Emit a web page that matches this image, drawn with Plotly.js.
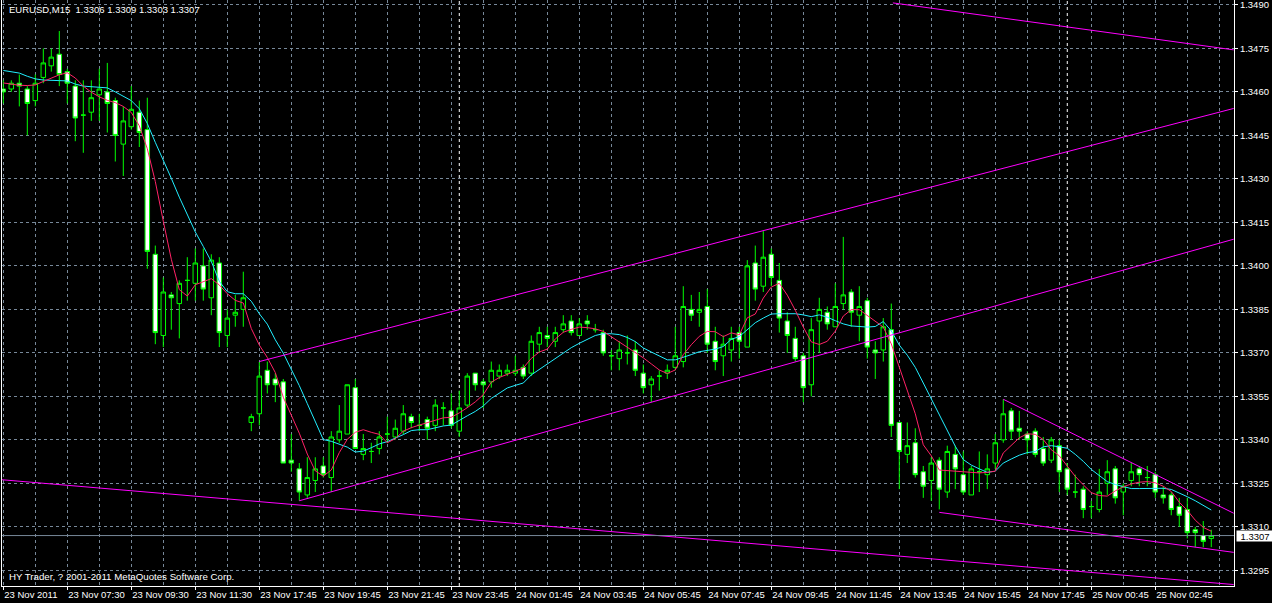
<!DOCTYPE html>
<html><head><meta charset="utf-8">
<script src="https://cdn.plot.ly/plotly-3.0.1.min.js"></script>
<style>html,body{margin:0;padding:0;background:#000;overflow:hidden}#chart{width:1272px;height:603px}</style>
</head><body><div id="chart"></div>
<script>
const symbolTitle = "EURUSD,M15&nbsp;&nbsp;1.3306 1.3309 1.3303 1.3307";
const copyright = "HY Trader, ? 2001-2011 MetaQuotes Software Corp.";
const timeLabels = ["23 Nov 2011","23 Nov 07:30","23 Nov 09:30","23 Nov 11:30","23 Nov 17:45","23 Nov 19:45","23 Nov 21:45","23 Nov 23:45","24 Nov 01:45","24 Nov 03:45","24 Nov 05:45","24 Nov 07:45","24 Nov 09:45","24 Nov 11:45","24 Nov 13:45","24 Nov 15:45","24 Nov 17:45","25 Nov 00:45","25 Nov 02:45"];
const barsPerLabel = 8;
const priceTicks = [1.3295,1.3310,1.3325,1.3340,1.3355,1.3370,1.3385,1.3400,1.3415,1.3430,1.3445,1.3460,1.3475,1.3490];

const open = [1.3461,1.3461,1.3463,1.3461,1.3457,1.3465,1.3469,1.3473,1.3467,1.3462,
1.3452,1.3453,1.3459,1.3460,1.3457,1.3442,1.3448,1.3453,1.3447,1.3404,
1.3376,1.3390,1.3387,1.3395,1.3394,1.3400,1.3389,1.3401,1.3376,1.3383,
1.3385,1.3346,1.3349,1.3364,1.3361,1.3360,1.3333,1.3330,1.3321,1.3326,
1.3331,1.3327,1.3340,1.3342,1.3358,1.3335,1.3336,1.3337,1.3342,1.3341,
1.3343,1.3348,1.3345,1.3347,1.3345,1.3351,1.3350,1.3343,1.3352,1.3363,
1.3360,1.3360,1.3362,1.3363,1.3363,1.3365,1.3363,1.3373,1.3376,1.3374,
1.3378,1.3381,1.3376,1.3381,1.3378,1.3377,1.3369,1.3368,1.3370,1.3371,
1.3363,1.3359,1.3362,1.3363,1.3365,1.3367,1.3385,1.3384,1.3386,1.3374,
1.3369,1.3371,1.3377,1.3372,1.3401,1.3393,1.3404,1.3395,1.3381,1.3375,
1.3369,1.3359,1.3381,1.3384,1.3379,1.3387,1.3391,1.3383,1.3388,1.3371,
1.3371,1.3378,1.3346,1.3335,1.3339,1.3329,1.3326,1.3333,1.3322,1.3335,
1.3328,1.3321,1.3329,1.3328,1.3332,1.3340,1.3350,1.3344,1.3342,1.3343,
1.3337,1.3333,1.3338,1.3330,1.3322,1.3323,1.3317,1.3316,1.3325,1.3330,
1.3322,1.3326,1.3330,1.3327,1.3328,1.3321,1.3321,1.3317,1.3316,1.3309,
1.3307,1.3306];
const high = [1.3464,1.3464,1.3466,1.3462,1.3466,1.3475,1.3475,1.3481,1.3468,1.3464,
1.3464,1.3464,1.3468,1.3470,1.3458,1.3455,1.3462,1.3457,1.3458,1.3407,
1.3396,1.3391,1.3395,1.3403,1.3406,1.3406,1.3404,1.3403,1.3385,1.3390,
1.3398,1.3349,1.3367,1.3367,1.3363,1.3361,1.3342,1.3332,1.3334,1.3334,
1.3334,1.3343,1.3352,1.3359,1.3361,1.3342,1.3339,1.3343,1.3348,1.3347,
1.3352,1.3349,1.3349,1.3348,1.3354,1.3353,1.3356,1.3357,1.3363,1.3363,
1.3361,1.3367,1.3366,1.3366,1.3369,1.3366,1.3376,1.3379,1.3379,1.3379,
1.3383,1.3383,1.3382,1.3383,1.3380,1.3378,1.3371,1.3374,1.3376,1.3374,
1.3366,1.3362,1.3364,1.3366,1.3379,1.3393,1.3390,1.3391,1.3392,1.3379,
1.3376,1.3379,1.3379,1.3402,1.3407,1.3412,1.3406,1.3401,1.3384,1.3379,
1.3370,1.3382,1.3389,1.3386,1.3394,1.3410,1.3392,1.3393,1.3389,1.3374,
1.3382,1.3387,1.3346,1.3346,1.3344,1.3331,1.3334,1.3334,1.3338,1.3338,
1.3336,1.3331,1.3336,1.3335,1.3342,1.3354,1.3351,1.3350,1.3343,1.3344,
1.3341,1.3341,1.3340,1.3332,1.3328,1.3324,1.3319,1.3330,1.3333,1.3331,
1.3325,1.3332,1.3331,1.3331,1.3329,1.3324,1.3322,1.3320,1.3320,1.3310,
1.3312,1.3309];
const low = [1.3456,1.3460,1.3455,1.3445,1.3455,1.3463,1.3467,1.3462,1.3456,1.3443,
1.3439,1.3450,1.3450,1.3446,1.3436,1.3431,1.3447,1.3441,1.3399,1.3373,
1.3372,1.3378,1.3375,1.3388,1.3388,1.3388,1.3383,1.3372,1.3372,1.3379,
1.3379,1.3343,1.3345,1.3356,1.3353,1.3332,1.3329,1.3319,1.3320,1.3322,
1.3327,1.3322,1.3339,1.3342,1.3337,1.3333,1.3332,1.3335,1.3339,1.3340,
1.3342,1.3344,1.3343,1.3340,1.3343,1.3345,1.3344,1.3341,1.3351,1.3357,
1.3351,1.3358,1.3361,1.3362,1.3362,1.3361,1.3362,1.3370,1.3372,1.3372,
1.3377,1.3376,1.3376,1.3378,1.3377,1.3369,1.3364,1.3364,1.3366,1.3362,
1.3356,1.3353,1.3357,1.3361,1.3364,1.3365,1.3381,1.3379,1.3370,1.3364,
1.3362,1.3367,1.3368,1.3372,1.3388,1.3391,1.3393,1.3377,1.3370,1.3367,
1.3353,1.3355,1.3370,1.3378,1.3379,1.3385,1.3379,1.3374,1.3368,1.3361,
1.3367,1.3341,1.3323,1.3332,1.3327,1.3320,1.3319,1.3316,1.3320,1.3323,
1.3321,1.3321,1.3322,1.3323,1.3330,1.3339,1.3340,1.3340,1.3335,1.3334,
1.3331,1.3332,1.3322,1.3321,1.3320,1.3313,1.3313,1.3315,1.3321,1.3318,
1.3314,1.3324,1.3324,1.3324,1.3320,1.3318,1.3314,1.3310,1.3306,1.3303,
1.3303,1.3303];
const close = [1.3460,1.3463,1.3462,1.3456,1.3463,1.3470,1.3472,1.3466,1.3463,1.3451,
1.3452,1.3458,1.3461,1.3456,1.3445,1.3450,1.3454,1.3446,1.3405,1.3377,
1.3391,1.3389,1.3394,1.3395,1.3401,1.3392,1.3402,1.3377,1.3382,1.3384,
1.3389,1.3348,1.3362,1.3359,1.3359,1.3332,1.3332,1.3322,1.3327,1.3330,
1.3328,1.3341,1.3343,1.3359,1.3337,1.3337,1.3336,1.3341,1.3342,1.3344,
1.3349,1.3346,1.3345,1.3344,1.3352,1.3351,1.3345,1.3351,1.3362,1.3359,
1.3359,1.3364,1.3364,1.3364,1.3364,1.3362,1.3374,1.3377,1.3375,1.3377,
1.3380,1.3377,1.3380,1.3380,1.3378,1.3370,1.3369,1.3371,1.3370,1.3364,
1.3358,1.3361,1.3362,1.3364,1.3369,1.3386,1.3383,1.3385,1.3373,1.3367,
1.3373,1.3375,1.3374,1.3400,1.3392,1.3403,1.3396,1.3382,1.3376,1.3368,
1.3358,1.3378,1.3385,1.3380,1.3386,1.3390,1.3384,1.3386,1.3372,1.3370,
1.3379,1.3345,1.3336,1.3338,1.3328,1.3324,1.3332,1.3323,1.3336,1.3330,
1.3322,1.3330,1.3329,1.3330,1.3339,1.3349,1.3343,1.3343,1.3340,1.3335,
1.3332,1.3340,1.3329,1.3323,1.3322,1.3316,1.3317,1.3322,1.3329,1.3320,
1.3324,1.3329,1.3328,1.3327,1.3322,1.3320,1.3316,1.3314,1.3308,1.3308,
1.3305,1.3307];

const maSlow = [1.34674,1.34669,1.34665,1.34654,1.34645,1.34641,1.34639,1.34639,1.34638,1.34627,
1.34620,1.34618,1.34616,1.34614,1.34600,1.34584,1.34570,1.34542,1.34491,1.34426,
1.34366,1.34302,1.34237,1.34175,1.34117,1.34067,1.34015,1.33947,1.33911,1.33904,
1.33904,1.33878,1.33835,1.33799,1.33745,1.33699,1.33643,1.33587,1.33525,1.33463,
1.33401,1.33395,1.33384,1.33375,1.33358,1.33361,1.33373,1.33386,1.33394,1.33405,
1.33418,1.33432,1.33435,1.33435,1.33442,1.33448,1.33451,1.33468,1.33483,1.33498,
1.33517,1.33543,1.33561,1.33579,1.33588,1.33596,1.33624,1.33643,1.33660,1.33682,
1.33700,1.33718,1.33733,1.33746,1.33760,1.33766,1.33766,1.33763,1.33753,1.33739,
1.33717,1.33703,1.33689,1.33676,1.33676,1.33684,1.33694,1.33704,1.33708,1.33713,
1.33722,1.33747,1.33756,1.33781,1.33804,1.33820,1.33834,1.33835,1.33835,1.33835,
1.33831,1.33825,1.33831,1.33823,1.33811,1.33800,1.33793,1.33790,1.33789,1.33791,
1.33808,1.33776,1.33727,1.33692,1.33650,1.33596,1.33541,1.33486,1.33430,1.33378,
1.33332,1.33313,1.33300,1.33288,1.33292,1.33320,1.33334,1.33347,1.33356,1.33360,
1.33376,1.33380,1.33376,1.33371,1.33350,1.33326,1.33298,1.33276,1.33256,1.33246,
1.33238,1.33232,1.33232,1.33233,1.33234,1.33233,1.33229,1.33217,1.33204,1.33190,
1.33175,1.33158];
const maFast = [1.34631,1.34627,1.34623,1.34622,1.34624,1.34636,1.34648,1.34659,1.34666,1.34648,
1.34620,1.34599,1.34583,1.34571,1.34563,1.34550,1.34529,1.34483,1.34404,1.34291,
1.34154,1.34023,1.33918,1.33896,1.33935,1.33946,1.33956,1.33934,1.33904,1.33881,
1.33872,1.33784,1.33727,1.33684,1.33632,1.33547,1.33488,1.33423,1.33351,1.33293,
1.33275,1.33296,1.33356,1.33402,1.33426,1.33435,1.33426,1.33419,1.33390,1.33404,
1.33430,1.33442,1.33451,1.33459,1.33469,1.33476,1.33478,1.33493,1.33511,1.33531,
1.33556,1.33599,1.33615,1.33625,1.33637,1.33648,1.33681,1.33703,1.33713,1.33748,
1.33771,1.33781,1.33789,1.33787,1.33783,1.33774,1.33756,1.33739,1.33721,1.33703,
1.33683,1.33662,1.33641,1.33629,1.33641,1.33694,1.33728,1.33757,1.33774,1.33773,
1.33756,1.33769,1.33762,1.33821,1.33834,1.33889,1.33927,1.33940,1.33899,1.33847,
1.33789,1.33738,1.33729,1.33740,1.33775,1.33827,1.33849,1.33849,1.33828,1.33809,
1.33789,1.33731,1.33649,1.33569,1.33490,1.33383,1.33345,1.33296,1.33294,1.33290,
1.33288,1.33286,1.33286,1.33288,1.33292,1.33355,1.33382,1.33407,1.33421,1.33419,
1.33401,1.33366,1.33345,1.33308,1.33274,1.33245,1.33218,1.33208,1.33206,1.33224,
1.33238,1.33248,1.33254,1.33256,1.33252,1.33240,1.33222,1.33185,1.33157,1.33123,
1.33098,1.33085];

// trend lines: start/end in bar index and price
const trendStartBar   = [111.2, 32, 37, -0.4, 125, 117];
const trendStartPrice = [1.34907, 1.3367, 1.3319, 1.33263, 1.3354, 1.3315];
const trendEndBar     = [153.8, 153.8, 153.8, 153.8, 153.8, 153.8];
const trendEndPrice   = [1.34745, 1.34543, 1.34092, 1.32901, 1.33147, 1.33012];

const bidPrice = 1.3307;
const daySeparatorBars = [57, 133];

const bars = open.map((_, i) => i);
const xRange = [-0.1625, 153.84];
const gridColor = '#778899';
const fontFamily = 'Liberation Sans, Arial, sans-serif';

const traces = [];
traces.push({
  type: 'candlestick', x: bars, open: open, high: high, low: low, close: close,
  increasing: {line: {color: '#00ff00', width: 1}, fillcolor: '#000000'},
  decreasing: {line: {color: '#00ff00', width: 1}, fillcolor: '#ffffff'},
  whiskerwidth: 0, hoverinfo: 'skip', showlegend: false
});
traces.push({type: 'scatter', mode: 'lines', x: bars, y: maSlow, line: {color: '#22eeff', width: 1}, hoverinfo: 'skip'});
traces.push({type: 'scatter', mode: 'lines', x: bars, y: maFast, line: {color: '#ff2266', width: 1}, hoverinfo: 'skip'});
for (let i = 0; i < trendStartBar.length; i++) {
  traces.push({type: 'scatter', mode: 'lines', x: [trendStartBar[i], trendEndBar[i]], y: [trendStartPrice[i], trendEndPrice[i]],
    line: {color: '#ff00ff', width: 1}, hoverinfo: 'skip'});
}
traces.push({type: 'scatter', mode: 'lines', x: xRange, y: [bidPrice, bidPrice], line: {color: gridColor, width: 1}, hoverinfo: 'skip'});

const shapes = daySeparatorBars.map(b => ({
  type: 'line', xref: 'x', yref: 'paper', x0: b, x1: b, y0: 0, y1: 1,
  line: {color: '#ffffff', width: 1, dash: '3px,3px'}, layer: 'below'
}));

const layout = {
  width: 1272, height: 603,
  margin: {l: 2, r: 38, t: 0, b: 17, pad: 0},
  paper_bgcolor: '#000000', plot_bgcolor: '#000000',
  font: {family: fontFamily, size: 9.5, color: '#ffffff'},
  showlegend: false, hovermode: false, dragmode: false,
  boxgap: 0.2,
  xaxis: {
    type: 'linear', range: xRange, rangeslider: {visible: false}, fixedrange: true,
    tickmode: 'array', tickvals: timeLabels.map((_, i) => i * barsPerLabel), ticktext: timeLabels,
    tickangle: 0, ticklabeloverflow: 'allow', automargin: false,
    ticklabelposition: 'outside right', ticks: 'outside', ticklen: 3, tickcolor: '#ffffff', tickwidth: 1,
    tickfont: {family: fontFamily, size: 9.5, color: '#ffffff'},
    showgrid: true, gridcolor: gridColor, gridwidth: 1, griddash: '3px,3px',
    minor: {tickmode: 'linear', tick0: 0, dtick: 4, showgrid: true, gridcolor: gridColor, gridwidth: 1, griddash: '3px,3px', ticks: ''},
    showline: true, linecolor: '#ffffff', linewidth: 1, mirror: true, zeroline: false
  },
  yaxis: {
    side: 'right', range: [1.32896, 1.34917], fixedrange: true,
    tickmode: 'array', tickvals: priceTicks, ticktext: priceTicks.map(v => v.toFixed(4)),
    ticklabeloverflow: 'allow', automargin: false,
    ticks: 'outside', ticklen: 3, tickcolor: '#ffffff',
    tickfont: {family: fontFamily, size: 9.5, color: '#ffffff'},
    showgrid: true, gridcolor: gridColor, gridwidth: 1, griddash: '3px,3px',
    showline: true, linecolor: '#ffffff', linewidth: 1, mirror: true, zeroline: false
  },
  shapes: shapes,
  annotations: [
    {xref: 'paper', yref: 'paper', x: 0, y: 1, xshift: 5, yshift: -2, xanchor: 'left', yanchor: 'top',
     text: symbolTitle, showarrow: false, font: {family: fontFamily, size: 9.5, color: '#ffffff'}},
    {xref: 'paper', yref: 'paper', x: 0, y: 0, xshift: 5, yshift: 2, xanchor: 'left', yanchor: 'bottom',
     text: copyright, showarrow: false, font: {family: fontFamily, size: 9.7, color: '#ffffff'}},
    {xref: 'paper', yref: 'y', x: 1, y: bidPrice, xshift: 2, xanchor: 'left', yanchor: 'middle',
     text: bidPrice.toFixed(4), showarrow: false, bgcolor: '#ffffff', borderpad: 0, width: 36, height: 10,
     font: {family: fontFamily, size: 9.5, color: '#000000'}}
  ]
};

Plotly.newPlot('chart', traces, layout, {staticPlot: true, displayModeBar: false});
</script>
</body></html>
